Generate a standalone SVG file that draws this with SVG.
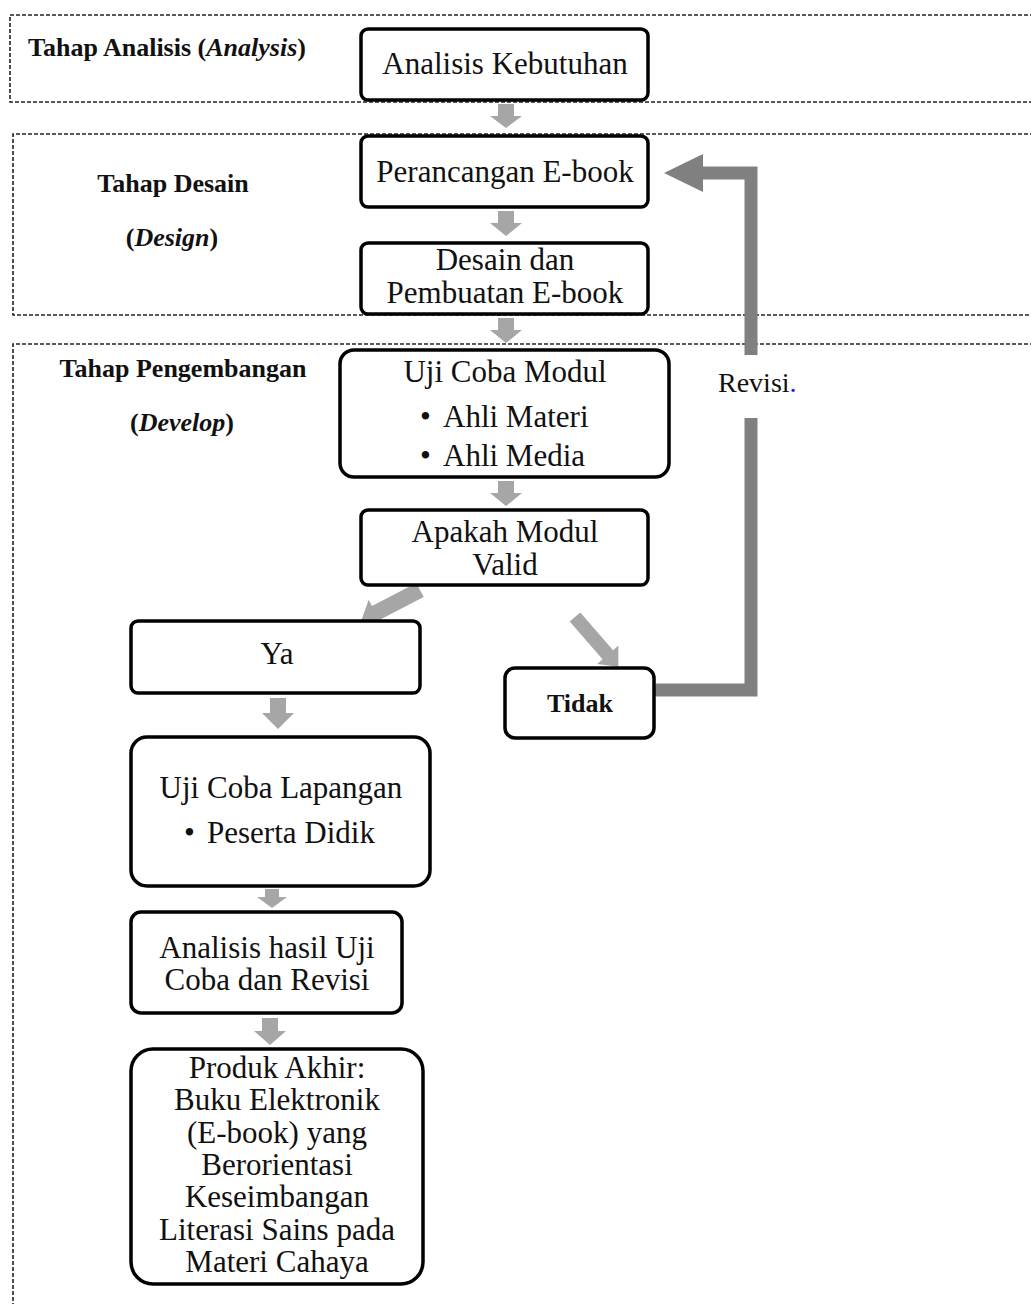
<svg xmlns="http://www.w3.org/2000/svg" width="1031" height="1304" viewBox="0 0 1031 1304">
<style>
.phase{fill:none;stroke:#222;stroke-width:1.6;stroke-dasharray:4 2}
.box{fill:#fff;stroke:#000;stroke-width:3.5}
.t{font-family:"Liberation Serif",serif;font-size:31px;fill:#111;text-anchor:middle}
.t.s{text-anchor:start}
.lbl{font-family:"Liberation Serif",serif;font-size:26px;font-weight:bold;fill:#111}
.c{text-anchor:middle}
.arr{fill:#a6a6a6}
.loop{fill:none;stroke:#808080;stroke-width:13}
</style>
<rect width="1031" height="1304" fill="#fff"/>
<g id="phases">
<path class="phase" d="M1040,15 H10 V102 H1040"/>
<path class="phase" d="M1040,134 H13 V315 H1040"/>
<path class="phase" d="M1040,344 H13 V1310"/>
<text class="lbl" x="28" y="56">Tahap Analisis (<tspan font-style="italic">Analysis</tspan>)</text>
<text class="lbl c" x="173" y="192">Tahap Desain</text>
<text class="lbl c" x="172" y="246">(<tspan font-style="italic">Design</tspan>)</text>
<text class="lbl c" x="183" y="377">Tahap Pengembangan</text>
<text class="lbl c" x="182" y="431">(<tspan font-style="italic">Develop</tspan>)</text>
</g>
<g id="connectors">
<polygon class="arr" points="498,104 514,104 514,116 522,116 506,128 490,116 498,116"/>
<polygon class="arr" points="498,211 514,211 514,223 522,223 506,236 490,223 498,223"/>
<polygon class="arr" points="498,318 514,318 514,330 522,330 506,343 490,330 498,330"/>
<polygon class="arr" points="498,481 514,481 514,493 522,493 506,506 490,493 498,493"/>
<polygon class="arr" points="270,698 286,698 286,713 294,713 278,729 262,713 270,713"/>
<polygon class="arr" points="265,889 279,889 279,897 287,897 272,908 257,897 265,897"/>
<polygon class="arr" points="262,1018 278,1018 278,1031 286,1031 270,1045 254,1031 262,1031"/>
<g transform="translate(420,590) rotate(152.6)">
<polygon class="arr" points="0,-8 50,-8 50,-15 66,0 50,15 50,8 0,8"/>
</g>
<g transform="translate(575,617) rotate(49)">
<polygon class="arr" points="0,-7 50,-7 50,-14 66,0 50,14 50,7 0,7"/>
</g>
<polyline class="loop" points="654,690 751,690 751,418"/>
<polyline class="loop" points="751,355 751,173 702,173"/>
<polygon fill="#808080" points="703,154 703,192 664,173"/>
<text x="718" y="392" font-family="Liberation Serif, serif" font-size="28" fill="#111">Revisi<tspan fill="#1a1aff">.</tspan></text>
</g>
<g id="n-analisis">
<rect class="box" x="361" y="29" width="287" height="71" rx="7"/>
<text class="t" x="505" y="74">Analisis Kebutuhan</text>
</g>
<g id="n-perancangan">
<rect class="box" x="361" y="136" width="287" height="71" rx="7"/>
<text class="t" x="505" y="182">Perancangan E-book</text>
</g>
<g id="n-desain">
<rect class="box" x="361" y="243" width="287" height="71" rx="7"/>
<text class="t" x="505" y="270">Desain dan</text>
<text class="t" x="505" y="303">Pembuatan E-book</text>
</g>
<g id="n-ujicoba">
<rect class="box" x="340" y="350" width="329" height="127" rx="14"/>
<text class="t" x="505" y="382">Uji Coba Modul</text>
<text class="t s" x="420" y="427">•<tspan x="443">Ahli Materi</tspan></text>
<text class="t s" x="420" y="466">•<tspan x="443">Ahli Media</tspan></text>
</g>
<g id="n-valid">
<rect class="box" x="361" y="510" width="287" height="75" rx="7"/>
<text class="t" x="505" y="542">Apakah Modul</text>
<text class="t" x="505" y="575">Valid</text>
</g>
<g id="n-ya">
<rect class="box" x="131" y="621" width="289" height="72" rx="7"/>
<text class="t" x="277" y="664">Ya</text>
</g>
<g id="n-tidak">
<rect class="box" x="505" y="668" width="149" height="70" rx="10"/>
<text class="lbl c" x="580" y="712">Tidak</text>
</g>
<g id="n-lapangan">
<rect class="box" x="131" y="737" width="299" height="149" rx="16"/>
<text class="t" x="281" y="798">Uji Coba Lapangan</text>
<text class="t s" x="184" y="843">•<tspan x="207">Peserta Didik</tspan></text>
</g>
<g id="n-analisis-hasil">
<rect class="box" x="131" y="912" width="271" height="101" rx="10"/>
<text class="t" x="267" y="958">Analisis hasil Uji</text>
<text class="t" x="267" y="990">Coba dan Revisi</text>
</g>
<g id="n-produk">
<rect class="box" x="131" y="1049" width="292" height="235" rx="22"/>
<text class="t" x="277" y="1078">Produk Akhir:</text>
<text class="t" x="277" y="1110">Buku Elektronik</text>
<text class="t" x="277" y="1143">(E-book) yang</text>
<text class="t" x="277" y="1175">Berorientasi</text>
<text class="t" x="277" y="1207">Keseimbangan</text>
<text class="t" x="277" y="1240">Literasi Sains pada</text>
<text class="t" x="277" y="1272">Materi Cahaya</text>
</g>
</svg>
